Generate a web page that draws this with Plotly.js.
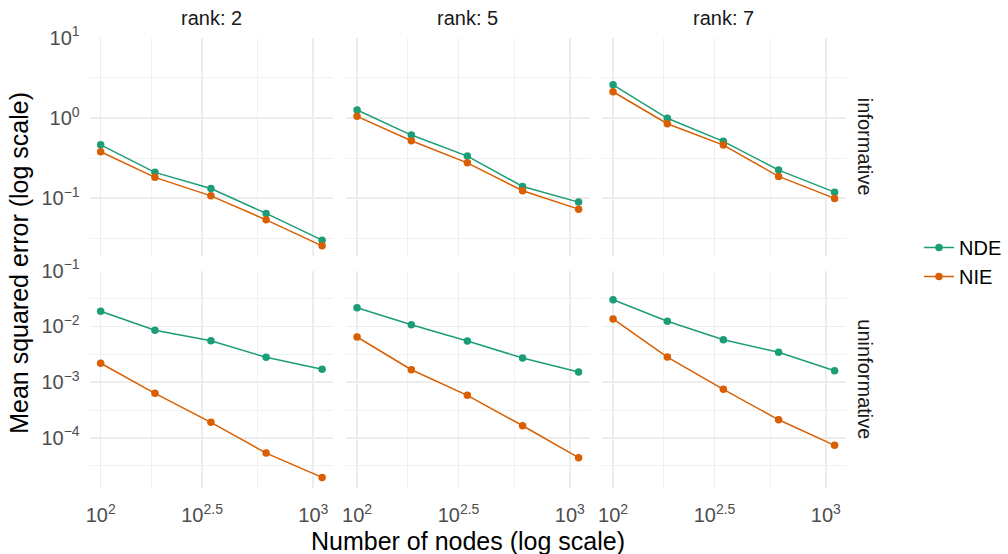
<!DOCTYPE html>
<html>
<head>
<meta charset="utf-8">
<script src="https://cdn.plot.ly/plotly-3.0.1.min.js"></script>
<style>html,body{margin:0;padding:0;background:#fff;}#chart{width:1008px;height:554px;}</style>
</head>
<body>
<div id="chart"></div>
<script>
// ---- data ----
const nodes = [100, 180, 330, 600, 1100];
const ranks = ["rank: 2", "rank: 5", "rank: 7"];
const priors = ["informative", "uninformative"];
const seriesNames = ["NDE", "NIE"];

const rank2_inf_NDE = [0.463, 0.210, 0.132, 0.0646, 0.0300];
const rank2_inf_NIE = [0.379, 0.182, 0.107, 0.0538, 0.0255];
const rank5_inf_NDE = [1.256, 0.612, 0.335, 0.140, 0.0894];
const rank5_inf_NIE = [1.047, 0.520, 0.276, 0.124, 0.0731];
const rank7_inf_NDE = [2.59, 0.99, 0.511, 0.224, 0.119];
const rank7_inf_NIE = [2.12, 0.847, 0.459, 0.187, 0.0995];

const rank2_uninf_NDE = [0.01866, 0.00851, 0.00553, 0.00279, 0.00170];
const rank2_uninf_NIE = [0.00218, 0.000630, 0.000190, 0.0000533, 0.0000195];
const rank5_uninf_NDE = [0.0217, 0.0107, 0.00547, 0.00271, 0.00152];
const rank5_uninf_NIE = [0.00646, 0.00167, 0.000579, 0.000165, 0.0000440];
const rank7_uninf_NDE = [0.0301, 0.01236, 0.00577, 0.00343, 0.00160];
const rank7_uninf_NIE = [0.0136, 0.00282, 0.000743, 0.000211, 0.0000733];

const xTickVals = [100, 300, 1000];
const xTickText = ["10<sup>2</sup>", "10<sup>2.5</sup>", "10<sup>3</sup>"];
const xMinorVals = [173.2, 547.7];

const yTopTickVals = [10, 1, 0.1];
const yTopTickText = ["10<sup>1</sup>", "10<sup>0</sup>", "10<sup>\u22121</sup>"];
const yTopMinorVals = [3.162, 0.3162, 0.03162];
const yBotTickVals = [0.1, 0.01, 0.001, 0.0001];
const yBotTickText = ["10<sup>\u22121</sup>", "10<sup>\u22122</sup>", "10<sup>\u22123</sup>", "10<sup>\u22124</sup>"];
const yBotMinorVals = [0.03162, 0.003162, 0.0003162, 0.00003162];

// ---- layout geometry ----
const W = 1008, H = 554;
const colPx = [[89.6, 333], [346, 589.5], [602, 845.5]];
const rowPx = [[37.7, 256], [270.7, 488]];
const colors = {NDE: "#1B9E77", NIE: "#D95F02"};
const FONT = "Liberation Sans, Arial, Helvetica, sans-serif";

const panelData = [
  [[rank2_inf_NDE, rank2_inf_NIE], [rank5_inf_NDE, rank5_inf_NIE], [rank7_inf_NDE, rank7_inf_NIE]],
  [[rank2_uninf_NDE, rank2_uninf_NIE], [rank5_uninf_NDE, rank5_uninf_NIE], [rank7_uninf_NDE, rank7_uninf_NIE]]
];

const traces = [];
const layout = {
  width: W, height: H,
  margin: {l: 0, r: 0, t: 0, b: 0, autoexpand: false},
  paper_bgcolor: "#ffffff", plot_bgcolor: "#ffffff",
  font: {family: FONT, color: "#000000"},
  showlegend: true,
  legend: {
    x: 919 / W, y: 1 - 262 / H, xanchor: "left", yanchor: "middle",
    font: {family: FONT, size: 20, color: "#000000"},
    itemwidth: 30, tracegroupgap: 0, bgcolor: "rgba(0,0,0,0)"
  },
  annotations: []
};

const gridCol = "#EDEDED";
for (let r = 0; r < 2; r++) {
  for (let c = 0; c < 3; c++) {
    const i = r * 3 + c;
    const xs = i === 0 ? "x" : "x" + (i + 1);
    const ys = i === 0 ? "y" : "y" + (i + 1);
    const xk = i === 0 ? "xaxis" : "xaxis" + (i + 1);
    const yk = i === 0 ? "yaxis" : "yaxis" + (i + 1);
    layout[xk] = {
      domain: [colPx[c][0] / W, colPx[c][1] / W],
      anchor: ys, type: "log", range: [1.948, 3.0927],
      tickmode: "array", tickvals: xTickVals, ticktext: xTickText,
      showticklabels: r === 1, ticks: "", ticklabelstandoff: 13,
      tickfont: {family: FONT, size: 20, color: "#4D4D4D"},
      showgrid: true, gridcolor: gridCol, gridwidth: 1.6,
      minor: {tickmode: "array", tickvals: xMinorVals, showgrid: true, gridcolor: "#F0F0F0", gridwidth: 0.9, ticks: ""},
      zeroline: false, showline: false, fixedrange: true, automargin: false
    };
    layout[yk] = {
      domain: [1 - rowPx[r][1] / H, 1 - rowPx[r][0] / H],
      anchor: xs, type: "log",
      range: r === 0 ? [-1.72, 1.0] : [-4.90, -1.0],
      tickmode: "array",
      tickvals: r === 0 ? yTopTickVals : yBotTickVals,
      ticktext: r === 0 ? yTopTickText : yBotTickText,
      showticklabels: c === 0, ticks: "", ticklabelstandoff: 9,
      tickfont: {family: FONT, size: 20, color: "#4D4D4D"},
      showgrid: true, gridcolor: gridCol, gridwidth: 1.6,
      minor: {tickmode: "array", tickvals: r === 0 ? yTopMinorVals : yBotMinorVals, showgrid: true, gridcolor: "#F0F0F0", gridwidth: 0.9, ticks: ""},
      zeroline: false, showline: false, fixedrange: true, automargin: false
    };
    seriesNames.forEach((nm, k) => {
      traces.push({
        type: "scatter", mode: "lines+markers",
        x: nodes, y: panelData[r][c][k],
        xaxis: xs, yaxis: ys, name: nm, legendgroup: nm,
        showlegend: i === 0,
        line: {color: colors[nm], width: 1.5},
        marker: {color: colors[nm], size: 7.5}
      });
    });
  }
}

// strip labels
ranks.forEach((t, c) => {
  layout.annotations.push({
    text: t, xref: "paper", yref: "paper",
    x: (colPx[c][0] + colPx[c][1]) / 2 / W, y: 1 - 18 / H,
    xanchor: "center", yanchor: "middle", showarrow: false,
    font: {family: FONT, size: 20, color: "#1A1A1A"}
  });
});
priors.forEach((t, r) => {
  layout.annotations.push({
    text: t, xref: "paper", yref: "paper",
    x: 865 / W, y: 1 - (rowPx[r][0] + rowPx[r][1]) / 2 / H,
    xanchor: "center", yanchor: "middle", showarrow: false, textangle: 90,
    font: {family: FONT, size: 20, color: "#1A1A1A"}
  });
});
// axis titles
layout.annotations.push({
  text: "Number of nodes (log scale)", xref: "paper", yref: "paper",
  x: (colPx[0][0] + colPx[2][1]) / 2 / W, y: 1 - 541 / H,
  xanchor: "center", yanchor: "middle", showarrow: false,
  font: {family: FONT, size: 25, color: "#000000"}
});
layout.annotations.push({
  text: "Mean squared error (log scale)", xref: "paper", yref: "paper",
  x: 19 / W, y: 1 - (rowPx[0][0] + rowPx[1][1]) / 2 / H,
  xanchor: "center", yanchor: "middle", showarrow: false, textangle: -90,
  font: {family: FONT, size: 25, color: "#000000"}
});

Plotly.newPlot("chart", traces, layout, {displayModeBar: false, staticPlot: true});
</script>
</body>
</html>
